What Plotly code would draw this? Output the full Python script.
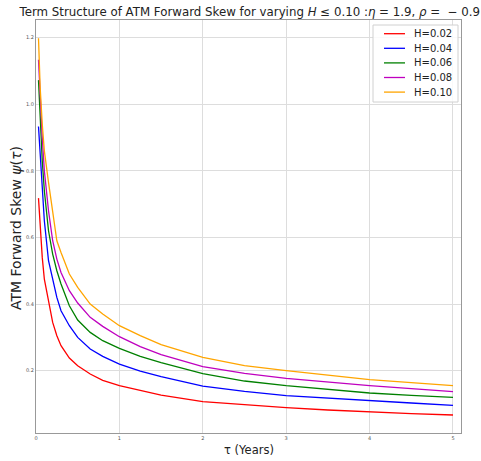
import plotly.graph_objects as go

# Maturities (years) at which the forward skew is sampled
tau = [0.03, 0.05, 0.075, 0.1, 0.15, 0.2, 0.25, 0.3, 0.4, 0.5, 0.65, 0.8,
       1.0, 1.25, 1.5, 2.0, 2.5, 3.0, 3.5, 4.0, 4.5, 5.0]

# ATM forward skew psi(tau) for each Hurst exponent
skew_h002 = [0.718, 0.620, 0.540, 0.475, 0.405, 0.345, 0.305, 0.275, 0.238, 0.215, 0.190, 0.171,
             0.155, 0.141, 0.127, 0.107, 0.097, 0.089, 0.082, 0.076, 0.071, 0.067]
skew_h004 = [0.933, 0.850, 0.740, 0.650, 0.530, 0.473, 0.420, 0.380, 0.335, 0.300, 0.265, 0.243,
             0.220, 0.199, 0.182, 0.154, 0.138, 0.125, 0.117, 0.110, 0.103, 0.096]
skew_h006 = [1.072, 0.950, 0.830, 0.740, 0.620, 0.550, 0.500, 0.460, 0.395, 0.352, 0.315, 0.290,
             0.267, 0.243, 0.224, 0.191, 0.169, 0.155, 0.143, 0.133, 0.126, 0.120]
skew_h008 = [1.133, 1.020, 0.900, 0.800, 0.680, 0.590, 0.535, 0.495, 0.440, 0.403, 0.360, 0.333,
             0.302, 0.272, 0.248, 0.212, 0.192, 0.177, 0.165, 0.155, 0.146, 0.137]
skew_h010 = [1.198, 1.050, 0.940, 0.860, 0.765, 0.670, 0.590, 0.555, 0.490, 0.450, 0.400, 0.370,
             0.335, 0.305, 0.278, 0.240, 0.215, 0.200, 0.186, 0.173, 0.164, 0.155]

labels = ["H=0.02", "H=0.04", "H=0.06", "H=0.08", "H=0.10"]
series = [skew_h002, skew_h004, skew_h006, skew_h008, skew_h010]
colors = ["#ff0000", "#0000ff", "#008000", "#bf00bf", "#ffa500"]

x_ticks = [0, 1, 2, 3, 4, 5]
y_ticks = [0.2, 0.4, 0.6, 0.8, 1.0, 1.2]
y_tick_text = ["0.2", "0.4", "0.6", "0.8", "1.0", "1.2"]

FONT = "DejaVu Sans"
W, H = 481, 461
ML, MR, MT, MB = 36, 20, 20, 28
PW, PH = W - ML - MR, H - MT - MB


def px_x(x):
    """Pixel column -> paper x."""
    return (x - ML) / PW


def px_y(y):
    """Pixel row (from top) -> paper y."""
    return (H - MB - y) / PH


fig = go.Figure()
for name, vals, col in zip(labels, series, colors):
    fig.add_trace(go.Scatter(x=tau, y=vals, mode="lines", name=name,
                             line=dict(color=col, width=1.3), showlegend=False))

# Compact legend box in the upper-right corner
shapes = [dict(type="rect", xref="paper", yref="paper",
               x0=px_x(373), x1=px_x(458), y0=px_y(102), y1=px_y(25),
               line=dict(color="#d0d0d0", width=1), fillcolor="rgba(255,255,255,0.85)",
               layer="above")]
annotations = []
row_h = 14.6
for i, (name, col) in enumerate(zip(labels, colors)):
    yc = 33.7 + i * row_h
    shapes.append(dict(type="line", xref="paper", yref="paper",
                       x0=px_x(384), x1=px_x(405), y0=px_y(yc), y1=px_y(yc),
                       line=dict(color=col, width=1.3), layer="above"))
    annotations.append(dict(text=name, xref="paper", yref="paper",
                            x=px_x(412), y=px_y(yc), xanchor="left", yanchor="middle",
                            showarrow=False,
                            font=dict(family=FONT, size=10, color="#222222")))

# Axis labels
annotations.append(dict(text="ATM Forward Skew <i>ψ</i>(<i>τ</i>)",
                        xref="paper", yref="paper", x=px_x(16), y=px_y(228),
                        xanchor="center", yanchor="middle", textangle=-90,
                        showarrow=False,
                        font=dict(family=FONT, size=14, color="#222222")))
annotations.append(dict(text="τ (Years)",
                        xref="paper", yref="paper", x=px_x(249), y=px_y(450),
                        xanchor="center", yanchor="middle",
                        showarrow=False,
                        font=dict(family=FONT, size=11.5, color="#222222")))

fig.update_layout(
    width=W, height=H,
    margin=dict(l=ML, r=MR, t=MT, b=MB),
    paper_bgcolor="white", plot_bgcolor="white",
    font=dict(family=FONT, color="#222222"),
    title=dict(
        text="Term Structure of ATM Forward Skew for varying <i>H</i> ≤ 0.10 :"
             "<i>η</i> = 1.9, <i>ρ</i> =  − 0.9",
        x=0.503, xref="paper", xanchor="center",
        y=0.975, yref="container", yanchor="middle",
        font=dict(family=FONT, size=11.8, color="#222222"),
    ),
    shapes=shapes,
    annotations=annotations,
    showlegend=False,
)

fig.update_xaxes(
    range=[0, 5.096], tickvals=x_ticks, ticktext=[str(t) for t in x_ticks],
    tickfont=dict(size=5, color="#555555"),
    showgrid=True, gridcolor="#dddddd", gridwidth=1,
    showline=True, mirror=True, linecolor="#999999", linewidth=1.2,
    zeroline=False, ticks="", automargin=False,
)
fig.update_yaxes(
    range=[0.013, 1.2525], tickvals=y_ticks, ticktext=y_tick_text,
    tickfont=dict(size=5, color="#555555"),
    showgrid=True, gridcolor="#dddddd", gridwidth=1,
    showline=True, mirror=True, linecolor="#999999", linewidth=1.2,
    zeroline=False, ticks="", automargin=False,
)

fig.write_html("out.html")
